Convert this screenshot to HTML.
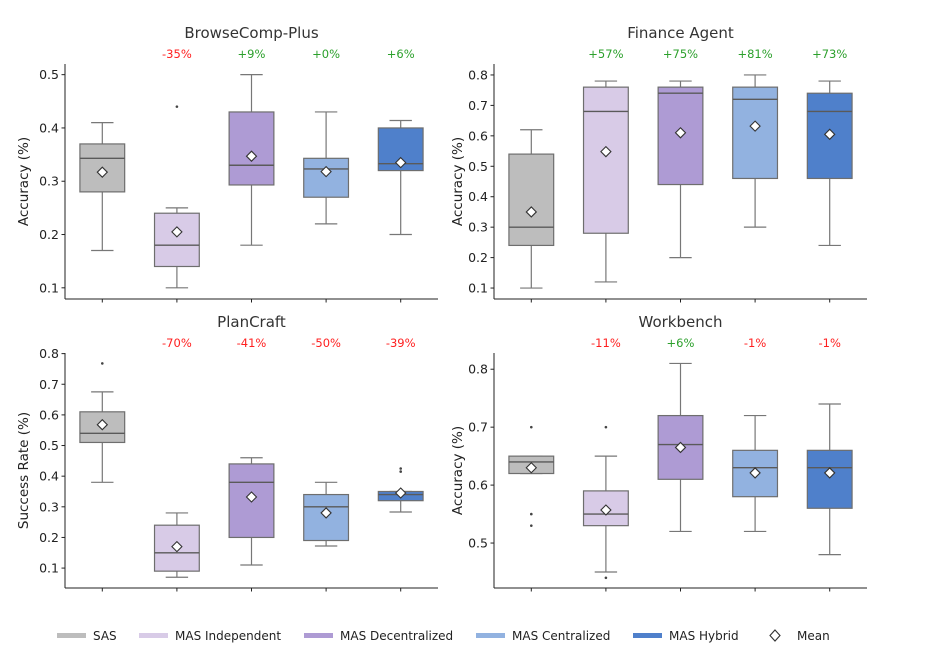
<!DOCTYPE html>
<html><head><meta charset="utf-8">
<style>
html,body{margin:0;padding:0;background:#fff;}
svg{display:block;font-family:"DejaVu Sans","Liberation Sans",sans-serif;}
</style></head>
<body>
<svg id="chart" width="936" height="656" viewBox="0 0 936 656" xmlns="http://www.w3.org/2000/svg"></svg>
<script>
const categories = ["SAS","MAS Independent","MAS Decentralized","MAS Centralized","MAS Hybrid"];
const colors = ["#bdbdbd","#d8cbe7","#ae9bd4","#92b2e0","#4f80cb"];
const panelTitles = ["BrowseComp-Plus","Finance Agent","PlanCraft","Workbench"];
const panelYLabels = ["Accuracy (%)","Accuracy (%)","Success Rate (%)","Accuracy (%)"];
const deltaLabels = [["-35%","+9%","+0%","+6%"],["+57%","+75%","+81%","+73%"],["-70%","-41%","-50%","-39%"],["-11%","+6%","-1%","-1%"]];
// [whislo, q1, median, q3, whishi]
const browseStats = [[.17,.28,.343,.37,.41],[.10,.14,.18,.24,.25],[.18,.293,.33,.43,.50],[.22,.27,.323,.343,.43],[.20,.32,.333,.40,.414]];
const browseMeans = [.317,.205,.347,.318,.335];
const browseOutliers = [[],[.44],[],[],[]];
const financeStats = [[.10,.24,.30,.54,.62],[.12,.28,.68,.76,.78],[.20,.44,.74,.76,.78],[.30,.46,.72,.76,.80],[.24,.46,.68,.74,.78]];
const financeMeans = [.35,.548,.61,.632,.605];
const financeOutliers = [[],[],[],[],[]];
const planStats = [[.38,.51,.54,.61,.675],[.07,.09,.15,.24,.28],[.11,.20,.38,.44,.46],[.172,.19,.30,.34,.38],[.283,.32,.34,.35,.35]];
const planMeans = [.568,.17,.332,.28,.345];
const planOutliers = [[.768],[],[],[],[.415,.425]];
const workStats = [[.62,.62,.64,.65,.65],[.45,.53,.55,.59,.65],[.52,.61,.67,.72,.81],[.52,.58,.63,.66,.72],[.48,.56,.63,.66,.74]];
const workMeans = [.63,.557,.665,.621,.621];
const workOutliers = [[.70,.55,.53],[.70,.44],[],[],[]];
const ticks = [[.1,.2,.3,.4,.5],[.1,.2,.3,.4,.5,.6,.7,.8],[.1,.2,.3,.4,.5,.6,.7,.8],[.5,.6,.7,.8]];
const yLims = [[0.079,0.52],[0.064,0.836],[0.035,0.802],[0.4224,0.828]];

const panels = [
 {x0:65,x1:438,top:64,bot:299,stats:browseStats,means:browseMeans,out:browseOutliers,ylx:28,name:"browsecomp"},
 {x0:494,x1:867,top:64,bot:299,stats:financeStats,means:financeMeans,out:financeOutliers,ylx:462,name:"finance"},
 {x0:65,x1:438,top:353,bot:588,stats:planStats,means:planMeans,out:planOutliers,ylx:28,name:"plancraft"},
 {x0:494,x1:867,top:353,bot:588,stats:workStats,means:workMeans,out:workOutliers,ylx:462,name:"workbench"}
];
const NS="http://www.w3.org/2000/svg";
const svg=document.getElementById('chart');
function mk(tag,attrs,parent,text){const e=document.createElementNS(NS,tag);for(const k in attrs)e.setAttribute(k,attrs[k]);if(text!==undefined)e.textContent=text;(parent||svg).appendChild(e);return e;}

panels.forEach((p,pi)=>{
  const g=mk('g',{});
  
  
  const [lo,hi]=yLims[pi];
  const y=v=>p.bot-(v-lo)/(hi-lo)*(p.bot-p.top);
  const step=(p.x1-p.x0)/5;
  const x=i=>p.x0+step*(i+0.5);
  const bw=step*0.6;
  const cx=(p.x0+p.x1)/2;
  const t=mk('text',{x:cx,y:p.top-26,'text-anchor':'middle','font-size':15,fill:'#333'},g,panelTitles[pi]);
  
  
  // axes
  const ax=mk('line',{x1:p.x0,y1:p.top,x2:p.x0,y2:p.bot,stroke:'#222','stroke-width':1},g);
  
  
  const bx=mk('line',{x1:p.x0,y1:p.bot,x2:p.x1,y2:p.bot,stroke:'#222','stroke-width':1},g);
  
  
  ticks[pi].forEach(v=>{
    mk('line',{x1:p.x0-3.5,x2:p.x0,y1:y(v),y2:y(v),stroke:'#222'},g);
    const tl=mk('text',{x:p.x0-6,y:y(v)+4.5,'text-anchor':'end','font-size':12.5,fill:'#222'},g,v.toFixed(1));
    
    
  });
  const yl=mk('text',{transform:`translate(${p.ylx},${(p.top+p.bot)/2}) rotate(-90)`,'text-anchor':'middle','font-size':13.5,fill:'#222'},g,panelYLabels[pi]);
  
  
  p.stats.forEach((s,i)=>{
    const xi=x(i);
    mk('line',{x1:xi,x2:xi,y1:p.bot,y2:p.bot+3.5,stroke:'#222'},g);
    const [wl,q1,md,q3,wh]=s;
    const wc='#777';
    mk('line',{x1:xi,x2:xi,y1:y(wh),y2:y(q3),stroke:wc,'stroke-width':1.2},g);
    mk('line',{x1:xi,x2:xi,y1:y(q1),y2:y(wl),stroke:wc,'stroke-width':1.2},g);
    mk('line',{x1:xi-bw/4,x2:xi+bw/4,y1:y(wh),y2:y(wh),stroke:wc,'stroke-width':1.2},g);
    mk('line',{x1:xi-bw/4,x2:xi+bw/4,y1:y(wl),y2:y(wl),stroke:wc,'stroke-width':1.2},g);
    const r=mk('rect',{x:xi-bw/2,y:y(q3),width:bw,height:Math.max(0.5,y(q1)-y(q3)),fill:colors[i],stroke:'#6e6e6e','stroke-width':1.2},g);
    
    
    mk('line',{x1:xi-bw/2,x2:xi+bw/2,y1:y(md),y2:y(md),stroke:'#5a5a5a','stroke-width':1.4},g);
    p.out[i].forEach(o=>{mk('circle',{cx:xi,cy:y(o),r:1.3,fill:'#444'},g);});
    const m=p.means[i],my=y(m);
    const d=mk('polygon',{points:`${xi},${my-5} ${xi+5},${my} ${xi},${my+5} ${xi-5},${my}`,fill:'#fff',stroke:'#333','stroke-width':1.1},g);
    
    
    if(i>0){
      const lbl=deltaLabels[pi][i-1];
      const a=mk('text',{x:xi,y:p.top-6,'text-anchor':'middle','font-size':11.5,fill:lbl[0]==='+'?'#2ca02c':'#ff2020'},g,lbl);
      
      
    }
  });
});
// legend
const leg=mk('g',{});


const legX=[57,139,304,476,633];
categories.forEach((c,i)=>{
  const e=mk('g',{},leg);
  
  
  mk('rect',{x:legX[i],y:633,width:29,height:5,fill:colors[i]},e);
  mk('text',{x:legX[i]+36,y:640,'font-size':12,fill:'#222'},e,c);
});
const me=mk('g',{},leg);


mk('polygon',{points:`775,630 780,635.5 775,641 770,635.5`,fill:'#fff',stroke:'#333','stroke-width':1.1},me);
mk('text',{x:797,y:640,'font-size':12,fill:'#222'},me,'Mean');
</script>
</body></html>
